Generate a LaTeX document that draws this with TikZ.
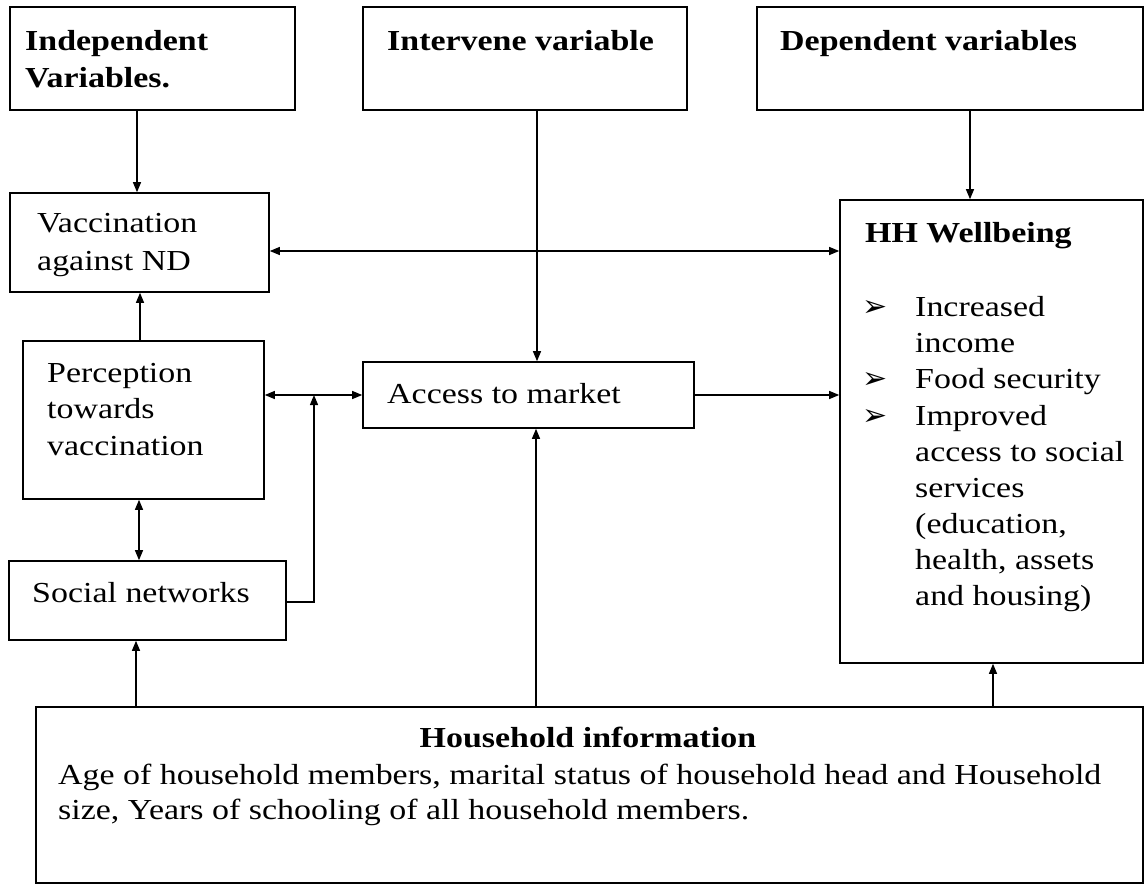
\documentclass[tikz,border=0pt]{standalone}
\usepackage{fontspec}
\setmainfont{Liberation Serif}[FakeStretch=1.17]
\newfontfamily\symfont{DejaVu Sans}
\usetikzlibrary{arrows.meta,fit}
\begin{document}
\begin{tikzpicture}[x=1pt,y=-1pt,
  box/.style={draw,line width=1.6pt,inner sep=0pt},
  txt/.style={anchor=base west,inner sep=0pt,font=\fontsize{29}{33}\selectfont},
  btxt/.style={anchor=base west,inner sep=0pt,font=\fontsize{29}{33}\selectfont\bfseries},
  bul/.style={anchor=base west,inner sep=0pt,font=\symfont\fontsize{30}{34}\selectfont},
  arr/.style={line width=1.2pt,-{Triangle[length=10pt,width=8pt]}},
  darr/.style={line width=1.2pt,{Triangle[length=10pt,width=8pt]}-{Triangle[length=10pt,width=8pt]}}]
\clip (0,0) rectangle (1144,886);
% boxes
\node[box,fit={(10,7)(295,110)}] (indep) {};
\node[box,fit={(363,7)(687,110)}] (inter) {};
\node[box,fit={(757,7)(1143,110)}] (dep) {};
\node[box,fit={(10,193)(269,292)}] (vac) {};
\node[box,fit={(23,341)(264,499)}] (per) {};
\node[box,fit={(9,561)(286,640)}] (soc) {};
\node[box,fit={(363,362)(694,428)}] (acc) {};
\node[box,fit={(840,200)(1143,663)}] (hh) {};
\node[box,fit={(36,707)(1143,883)}] (house) {};
% texts
\node[btxt] (t1) at (25,50) {Independent};
\node[btxt] (t2) at (25,87) {Variables.};
\node[btxt] (t3) at (387,50) {Intervene variable};
\node[btxt] (t4) at (780,50) {Dependent variables};
\node[txt] (t5) at (37,232) {Vaccination};
\node[txt] (t6) at (37,270) {against ND};
\node[txt] (t7) at (47,382) {Perception};
\node[txt] (t8) at (47,418) {towards};
\node[txt] (t9) at (47,455) {vaccination};
\node[txt] (t10) at (387,403) {Access to market};
\node[txt] (t11) at (32,602) {Social networks};
\node[btxt] (t12) at (865,242) {HH Wellbeing};
\node[bul] (b1) at (862,316) {➢};
\node[bul] (b2) at (862,388) {➢};
\node[bul] (b3) at (862,425) {➢};
\node[txt] (h1) at (915,316) {Increased};
\node[txt] (h2) at (915,352) {income};
\node[txt] (h3) at (915,388) {Food security};
\node[txt] (h4) at (915,425) {Improved};
\node[txt] (h5) at (915,461) {access to social};
\node[txt] (h6) at (915,497) {services};
\node[txt] (h7) at (915,533) {(education,};
\node[txt] (h8) at (915,569) {health, assets};
\node[txt] (h9) at (915,605) {and housing)};
\node[btxt,anchor=base] (t13) at (588,747) {Household information};
\node[txt] (t14) at (58,784) {Age of household members, marital status of household head and Household};
\node[txt] (t15) at (58,819) {size, Years of schooling of all household members.};
% helper coordinates
\coordinate (x136) at (136,0);
\coordinate (x137) at (137,0);
\coordinate (x139) at (139,0);
\coordinate (x140) at (140,0);
\coordinate (x536) at (536,0);
\coordinate (x537) at (537,0);
\coordinate (x970) at (970,0);
\coordinate (x993) at (993,0);
\coordinate (y251) at (0,251);
\coordinate (y602) at (0,602);
\coordinate (jn) at (314,395);
% connectors
\draw[arr] (indep.south -| x137) -- (vac.north -| x137);
\draw[darr] (vac.east |- y251) -- (hh.west |- y251);
\draw[arr] (inter.south -| x537) -- (acc.north -| x537);
\draw[arr] (dep.south -| x970) -- (hh.north -| x970);
\draw[arr] (per.north -| x140) -- (vac.south -| x140);
\draw[darr] (per.east |- acc.west) -- (acc.west);
\draw[arr] (soc.east |- y602) -| (jn);
\draw[darr] (per.south -| x139) -- (soc.north -| x139);
\draw[arr] (acc.east) -- (hh.west |- acc.east);
\draw[arr] (house.north -| x136) -- (soc.south -| x136);
\draw[arr] (house.north -| x536) -- (acc.south -| x536);
\draw[arr] (house.north -| x993) -- (hh.south -| x993);
\end{tikzpicture}
\end{document}
